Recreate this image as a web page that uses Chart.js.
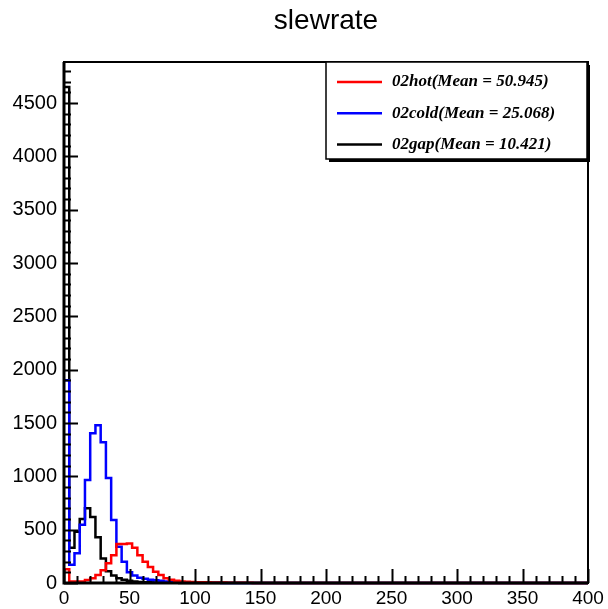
<!DOCTYPE html>
<html>
<head>
<meta charset="utf-8">
<script src="https://cdn.jsdelivr.net/npm/chart.js@4"></script>
<style>
  body { margin: 0; background: #fff; }
  canvas { display: block; }
</style>
</head>
<body>
<canvas id="graph" width="608" height="609"></canvas>
<script>
// histogram setup: 100 bins of width 4 over 0..400
var binWidth = 4;
var xMax = 400;
var yMax = 4885;
var xTicks = [0, 50, 100, 150, 200, 250, 300, 350, 400];
var yTicks = [0, 500, 1000, 1500, 2000, 2500, 3000, 3500, 4000, 4500];

var seriesNames = ['02hot(Mean = 50.945)', '02cold(Mean = 25.068)', '02gap(Mean = 10.421)'];
var seriesColors = ['#ff0000', '#0000ff', '#000000'];

// bin contents (bins further right are ~0)
var hotCounts = [130, 15, 15, 15, 28, 45, 75, 120, 185, 260, 365, 365, 370, 330, 260, 200, 150, 105, 75, 45,
                 30, 20, 15, 12, 10, 8, 7, 6, 5, 4, 4, 3, 3, 2, 2, 2, 1, 1, 1, 1];
var coldCounts = [1900, 170, 280, 545, 965, 1405, 1480, 1320, 985, 590, 340, 200, 100, 70, 50, 40, 30, 25, 20, 15,
                  12, 10, 8, 6, 5, 4, 3, 3, 2, 2, 1, 1, 1, 1, 1, 1];
var gapCounts = [4650, 330, 480, 600, 700, 620, 430, 230, 110, 70, 45, 30, 20, 15, 10, 8, 6, 5, 4, 3,
                 2, 2, 1, 1, 1];

function histPoints(counts) {
    var pts = counts.map(function (c, i) { return {x: i * binWidth, y: c}; });
    pts.push({x: counts.length * binWidth, y: 0});
    pts.push({x: xMax, y: 0});
    return pts;
}

function makeSet(i, counts) {
    return {
        label: seriesNames[i],
        data: histPoints(counts),
        borderColor: seriesColors[i],
        borderWidth: 2.5,
        stepped: 'before',
        pointRadius: 0,
        fill: false,
        clip: 4
    };
}

// ROOT style frame with ticks pointing inward, title and legend box
var rootFrame = {
    id: 'rootFrame',
    afterDatasetsDraw: function (chart) {
        var ctx = chart.ctx, a = chart.chartArea;
        var xs = chart.scales.x, ys = chart.scales.y;
        ctx.save();
        ctx.strokeStyle = '#000';
        ctx.beginPath();
        for (var v = 0; v <= xMax; v += 10) {
            var px = Math.round(xs.getPixelForValue(v)) + 0.5;
            var len = v % 50 === 0 ? 14 : 7;
            ctx.moveTo(px, a.bottom);
            ctx.lineTo(px, a.bottom - len);
        }
        for (var w = 0; w <= yMax; w += 100) {
            var py = Math.round(ys.getPixelForValue(w)) + 0.5;
            var l2 = w % 500 === 0 ? 14 : 7;
            ctx.moveTo(a.left, py);
            ctx.lineTo(a.left + l2, py);
        }
        ctx.lineWidth = 2;
        ctx.stroke();
        ctx.strokeRect(a.left, a.top, a.right - a.left, a.bottom - a.top);
        ctx.lineWidth = 3;
        ctx.beginPath();
        ctx.moveTo(a.left, a.top);
        ctx.lineTo(a.left, a.bottom);
        ctx.lineTo(a.right, a.bottom);
        ctx.stroke();

        // title
        ctx.fillStyle = '#000';
        ctx.font = '28px "Liberation Sans"';
        ctx.textAlign = 'center';
        ctx.textBaseline = 'middle';
        ctx.fillText('slewrate', (a.left + a.right) / 2, 21);

        // legend
        var bx = 326, by = 62, bw = 261, bh = 97;
        ctx.fillStyle = '#000';
        ctx.fillRect(bx + 3, by + 3, bw, bh);
        ctx.fillStyle = '#fff';
        ctx.fillRect(bx, by, bw, bh);
        ctx.lineWidth = 1.5;
        ctx.strokeRect(bx, by, bw, bh);
        ctx.font = 'bold italic 17px "Liberation Serif"';
        ctx.textAlign = 'left';
        chart.data.datasets.forEach(function (ds, i) {
            var ry = by + 20 + i * 31.3;
            ctx.strokeStyle = ds.borderColor;
            ctx.lineWidth = 2.5;
            ctx.beginPath();
            ctx.moveTo(bx + 11, ry);
            ctx.lineTo(bx + 56, ry);
            ctx.stroke();
            ctx.fillStyle = '#000';
            ctx.fillText(ds.label, bx + 66, ry);
        });
        ctx.restore();
    }
};

function plainLabel(v) { return String(v); }

new Chart(document.getElementById('graph'), {
    type: 'line',
    data: {
        datasets: [makeSet(0, hotCounts), makeSet(1, coldCounts), makeSet(2, gapCounts)]
    },
    options: {
        responsive: false,
        animation: false,
        layout: { padding: { top: 62, right: 20, left: 0, bottom: 0 } },
        plugins: { legend: { display: false }, tooltip: { enabled: false } },
        scales: {
            x: {
                type: 'linear',
                min: 0,
                max: xMax,
                afterBuildTicks: function (s) { s.ticks = xTicks.map(function (v) { return {value: v}; }); },
                afterFit: function (s) { s.height = 26; },
                grid: { display: false },
                border: { display: false },
                ticks: { color: '#000', padding: -4, maxRotation: 0, callback: plainLabel,
                         font: { family: 'Liberation Sans', size: 19 } }
            },
            y: {
                min: 0,
                max: yMax,
                afterBuildTicks: function (s) { s.ticks = yTicks.map(function (v) { return {value: v}; }); },
                afterFit: function (s) { s.width = 64; },
                grid: { display: false },
                border: { display: false },
                ticks: { color: '#000', padding: -1, callback: plainLabel,
                         font: { family: 'Liberation Sans', size: 20 } }
            }
        }
    },
    plugins: [rootFrame]
});
</script>
</body>
</html>
